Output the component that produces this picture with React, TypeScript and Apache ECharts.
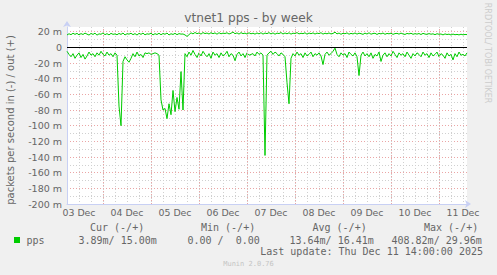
import React, { useEffect, useRef } from "react";
import * as echarts from "echarts";

// Hours counted from 03 Dec 00:00; the graph spans 03 Dec 06:00 .. 11 Dec 14:00
const START_HOUR = 6;
const END_HOUR = 206;
const dayLabels = ["03 Dec", "04 Dec", "05 Dec", "06 Dec", "07 Dec", "08 Dec", "09 Dec", "10 Dec", "11 Dec"];
const dayBoundaries = [24, 48, 72, 96, 120, 144, 168, 192];

// out (+), one value per hour starting at START_HOUR (milli-packets/s)
const outValues = [
  15.8, 17.4, 16.2, 18.0, 16.6, 17.9, 15.9, 17.6, 16.4, 18.2,
  16.9, 15.7, 17.8, 16.5, 18.1, 15.6, 17.3, 16.7, 18.4, 16.2,
  17.5, 15.9, 17.9, 16.6, 17.2,
  16.1, 17.8, 16.5, 18.3, 15.8, 17.4, 16.9, 18.0, 16.2, 17.6,
  15.7, 17.9, 16.6, 18.2, 16.0, 17.3, 16.8, 18.1, 15.9, 17.5,
  16.4, 18.0, 16.1, 17.7, 16.7, 18.3, 15.8, 17.4, 16.5, 17.9,
  16.2, 17.6, 16.9, 17.1, 15.9,
  14.0, 16.2, 18.6, 17.2, 19.0, 17.5, 18.4, 16.9, 18.9, 17.6,
  18.3, 17.0, 18.8, 17.4, 18.5, 16.8, 18.7, 17.3, 18.2, 17.7,
  18.6, 17.1, 18.0, 19.6, 17.4, 18.5, 16.9, 18.8, 17.5, 18.2,
  17.0, 18.6, 17.3, 18.1, 16.9,
  18.4, 17.2, 18.7, 16.9, 18.3, 17.5, 18.8, 17.1, 18.5, 16.8,
  18.2, 17.6, 18.9, 17.0, 18.4, 17.3, 18.6, 16.9, 18.1, 17.7,
  18.8, 17.2, 18.0, 17.5, 18.6, 16.8, 18.3, 17.4, 18.5, 17.0,
  18.2, 17.6, 18.7, 16.9, 18.1, 17.3, 18.4, 17.1, 17.8, 19.4,
  17.2, 18.3, 16.7, 18.0, 17.4, 18.5, 16.8, 17.9, 17.1, 18.4,
  16.9, 18.1, 17.5, 16.6, 18.2, 17.0, 18.6, 16.8, 17.7, 18.0,
  16.5, 17.9, 17.2, 18.3, 16.7, 17.8, 17.3, 18.1, 16.6, 17.6,
  17.9, 16.9, 18.2, 17.1, 16.5, 17.8, 17.2, 18.0, 16.7, 17.5,
  16.9, 17.7, 16.4, 17.9, 17.0, 16.6, 17.6, 16.8, 17.3, 16.2,
  17.4, 16.7, 17.1, 15.9, 17.2, 16.4, 16.9, 15.8, 17.0, 16.1,
  16.6, 15.9, 16.8, 16.0, 16.5, 16.3,
];

// in (-), one value per hour starting at START_HOUR (milli-packets/s)
const inValues = [
  -5, -9, -12, -8, -14, -10, -7, -13, -9, -15,
  -11, -6, -10, -8, -12, -7, -10, -5, -9, -11,
  -6, -10, -8, -12, -7, -10, -75, -100, -18, -12,
  -16, -19, -14, -8, -12, -6, -11, -9, -13, -7,
  -8, -7, -9, -8, -7, -8, -10, -67, -80, -78,
  -91, -72, -86, -55, -82, -64, -79, -31, -80, -8,
  -12, -6, -10, -4, -9, -13, -7, -11, -5, -9,
  -12, -8, -14, -6, -10, -8, -13, -7, -11, -9,
  -5, -12, -8, -10, -17, -9, -6, -11, -8, -13,
  -7, -10, -9, -8, -11, -6, -9, -7, -10, -138,
  -10, -7, -5, -9, -6, -8, -11, -7, -9, -12,
  -45, -72, -14, -8, -11, -6, -10, -8, -13, -7,
  -11, -9, -6, -12, -8, -10, -7, -11, -22, -9,
  -6, -10, -8, -5, -1, -9, -12, -7, -10, -8,
  -13, -6, -9, -11, -7, -12, -36, -10, -6, -11,
  -8, -12, -7, -14, -9, -11, -6, -18, -10, -7,
  -12, -8, -11, -5, -9, -13, -7, -10, -8, -12,
  -6, -10, -14, -8, -11, -7, -9, -12, -6, -10,
  -8, -13, -7, -11, -9, -6, -12, -8, -10, -14,
  -7, -11, -9, -16, -8, -12, -6, -10, -9, -11,
  -7,
];

const Y_MIN = -200;
const Y_MAX = 26;

const legendHeaders = ["Cur (-/+)", "Min (-/+)", "Avg (-/+)", "Max (-/+)"];
const legendValues = ["3.89m/ 15.00m", "0.00 /  0.00", "13.64m/ 16.41m", "408.82m/ 29.96m"];
const seriesName = "pps";
const lastUpdate = "Last update: Thu Dec 11 14:00:00 2025";
const titleText = "vtnet1 pps - by week";
const yAxisName = "packets per second in (-) / out (+)";
const watermark = "RRDTOOL/ TOBI OETIKER";
const footer = "Munin 2.0.76";

const GREEN = "#00CC00";
const AXIS = "#C8D0F4";
const FONT = "#666666";
const MINOR = "#d0d0d0";
const MAJOR = "#eba5a5";
const SANS = "DejaVu Sans";
const MONO = "DejaVu Sans Mono";

export default function App() {
  const ref = useRef<HTMLDivElement>(null);
  useEffect(() => {
    document.body.style.margin = "0";
    if (!ref.current) return;
    const chart = echarts.init(ref.current, undefined, { renderer: "svg" });
    const outData = outValues.map((v, i) => [START_HOUR + i, v]);
    const inData = inValues.map((v, i) => [START_HOUR + i, v]);
    const headerX = [90, 201, 312.5, 424];
    const valueX = [78.5, 187.5, 289.5, 391.5];
    const graphic: any[] = [
      { type: "text", x: 248.5, y: 18, style: { text: titleText, fill: FONT, font: `12.2px '${SANS}'`, align: "center", verticalAlign: "middle" } },
      { type: "text", x: 10, y: 120, rotation: Math.PI / 2, style: { text: yAxisName, fill: FONT, font: `10px '${SANS}'`, align: "center", verticalAlign: "middle" } },
      { type: "text", x: 487.5, y: 53, rotation: -Math.PI / 2, style: { text: watermark, fill: "#cccccc", font: `8px '${SANS}'`, align: "center", verticalAlign: "middle" } },
      { type: "rect", shape: { x: 14, y: 237, width: 6, height: 6 }, style: { fill: GREEN } },
      { type: "text", x: 26.5, y: 240.5, style: { text: seriesName, fill: FONT, font: `10px '${MONO}'`, align: "left", verticalAlign: "middle" } },
      { type: "text", x: 483, y: 251.5, style: { text: lastUpdate, fill: FONT, font: `10px '${MONO}'`, align: "right", verticalAlign: "middle" } },
      { type: "text", x: 248.5, y: 264, style: { text: footer, fill: "#c4c4c4", font: `7px '${MONO}'`, align: "center", verticalAlign: "middle" } },
    ];
    legendHeaders.forEach((t, i) => {
      graphic.push({ type: "text", x: headerX[i], y: 227, style: { text: t, fill: FONT, font: `10px '${MONO}'`, align: "left", verticalAlign: "middle" } });
    });
    legendValues.forEach((t, i) => {
      graphic.push({ type: "text", x: valueX[i], y: 240.5, style: { text: t, fill: FONT, font: `10px '${MONO}'`, align: "left", verticalAlign: "middle" } });
    });

    const yLabel = (v: number) => (v === 0 ? "0" : v % 20 === 0 ? `${v} m` : "");

    chart.setOption({
      animation: false,
      backgroundColor: "#F0F0F0",
      grid: { left: 67, right: 30, top: 27, bottom: 71, show: true, backgroundColor: "#FFFFFF", borderWidth: 0 },
      xAxis: {
        type: "value",
        min: START_HOUR,
        max: END_HOUR,
        interval: 6,
        axisLine: { show: true, onZero: false, lineStyle: { color: AXIS, width: 1 }, symbol: ["none", "arrow"], symbolSize: [6, 6], symbolOffset: [0, 4] },
        axisTick: { show: false },
        axisLabel: {
          formatter: (v: number) => (v % 24 === 12 ? dayLabels[(v - 12) / 24] ?? "" : ""),
          color: FONT,
          fontFamily: SANS,
          fontSize: 9.4,
          margin: 4,
          showMinLabel: true,
          showMaxLabel: true,
        },
        splitLine: { show: true, showMinLine: false, showMaxLine: false, lineStyle: { color: MINOR, type: [1, 2], width: 1 } },
      },
      yAxis: [
        {
          type: "value",
          min: Y_MIN,
          max: Y_MAX,
          interval: 10,
          axisLine: { show: true, onZero: false, lineStyle: { color: AXIS, width: 1 }, symbol: ["none", "arrow"], symbolSize: [6, 6], symbolOffset: [0, 6] },
          axisTick: { show: false },
          axisLabel: { show: false },
          splitLine: { show: true, showMinLine: false, showMaxLine: false, lineStyle: { color: MINOR, type: [1, 2], width: 1 } },
        },
        {
          type: "value",
          min: Y_MIN,
          max: Y_MAX,
          interval: 20,
          position: "left",
          axisLine: { show: false },
          axisTick: { show: false },
          axisLabel: { formatter: yLabel, color: FONT, fontFamily: SANS, fontSize: 9.5, margin: 5, showMaxLabel: false },
          splitLine: { show: true, showMinLine: false, showMaxLine: false, lineStyle: { color: MAJOR, type: [1, 2], width: 1 } },
        },
      ],
      series: [
        {
          type: "line",
          data: [],
          z: 1,
          silent: true,
          markLine: {
            silent: true,
            symbol: "none",
            label: { show: false },
            animation: false,
            data: dayBoundaries.map((d) => ({ xAxis: d, lineStyle: { color: MAJOR, type: [1, 2], width: 1 } })),
          },
        },
        {
          type: "line",
          name: "out",
          data: outData,
          yAxisIndex: 0,
          symbol: "none",
          z: 3,
          lineStyle: { color: GREEN, width: 1 },
          markLine: {
            silent: true,
            symbol: "none",
            label: { show: false },
            animation: false,
            data: [{ yAxis: 0, lineStyle: { color: "#000000", type: "solid", width: 1 } }],
          },
        },
        {
          type: "line",
          name: "in",
          data: inData,
          yAxisIndex: 0,
          symbol: "none",
          z: 3,
          lineStyle: { color: GREEN, width: 1 },
        },
      ],
      graphic,
    });
    return () => chart.dispose();
  }, []);
  return <div ref={ref} style={{ width: 497, height: 275 }} />;
}
